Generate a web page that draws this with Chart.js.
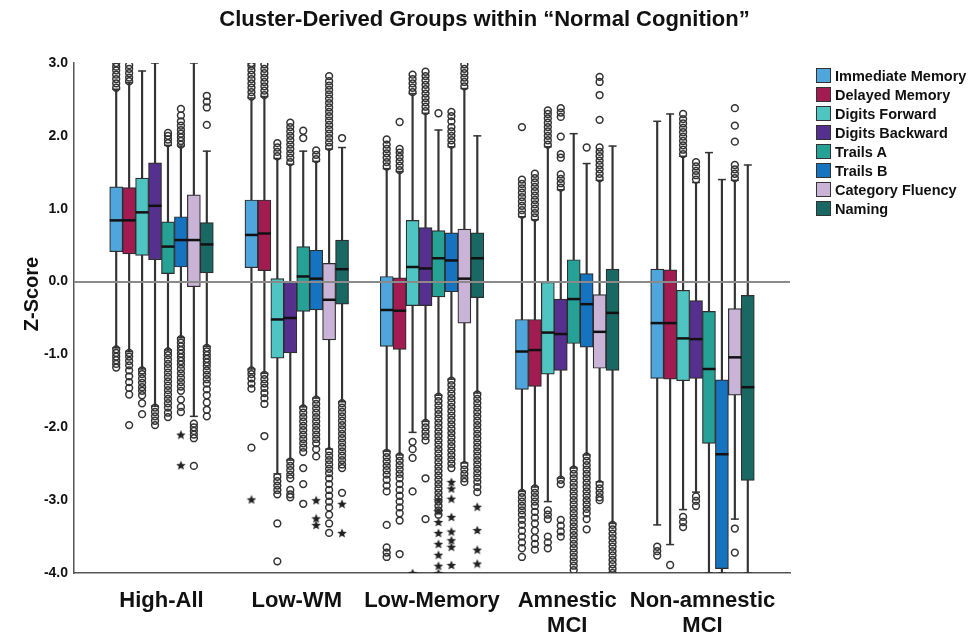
<!DOCTYPE html>
<html>
<head>
<meta charset="utf-8">
<script src="https://cdn.jsdelivr.net/npm/chart.js@4.4.1/dist/chart.umd.min.js"></script>
<style>
  body { margin: 0; background: #fff; font-family: "Liberation Sans", Arial, sans-serif; }
  #wrap { position: relative; width: 969px; height: 634px; }
  #legend { position: absolute; left: 816px; top: 66px; }
  .item { display: flex; align-items: center; height: 19px; font-weight: bold; font-size: 14.5px; color: #111; }
  .swatch { width: 15px; height: 15px; box-sizing: border-box; border: 1.5px solid #333; margin-right: 4px; }
</style>
</head>
<body>
<div id="wrap">
  <canvas id="chart"></canvas>
  <div id="legend"></div>
</div>
<script>
const groupLabels = ['High-All', 'Low-WM', 'Low-Memory', ['Amnestic', 'MCI'], ['Non-amnestic', 'MCI']];
const testNames = ['Immediate Memory', 'Delayed Memory', 'Digits Forward', 'Digits Backward',
                   'Trails A', 'Trails B', 'Category Fluency', 'Naming'];
const testColors = ['#4ea6dc', '#a31c51', '#4ec5c3', '#55308f', '#25a196', '#1673bf', '#c9b4d8', '#196864'];

// one row per test, one value per group (High-All .. Non-amnestic MCI)
const q3Values = [
  [1.30, 1.12, 0.07, -0.52, 0.17],
  [1.29, 1.12, 0.05, -0.52, 0.16],
  [1.42, 0.04, 0.84, -0.01, -0.12],
  [1.63, -0.01, 0.74, -0.24, -0.26],
  [0.82, 0.48, 0.70, 0.30, -0.41],
  [0.89, 0.43, 0.67, 0.11, -1.35],
  [1.19, 0.25, 0.72, -0.18, -0.37],
  [0.81, 0.57, 0.67, 0.17, -0.19]
];
const medianValues = [
  [0.84, 0.64, -0.39, -0.96, -0.57],
  [0.84, 0.66, -0.40, -0.94, -0.57],
  [0.95, -0.52, 0.20, -0.70, -0.78],
  [1.04, -0.50, 0.18, -0.72, -0.79],
  [0.48, 0.07, 0.32, -0.24, -1.20],
  [0.57, 0.04, 0.29, -0.31, -2.37],
  [0.57, -0.25, 0.04, -0.69, -1.04],
  [0.51, 0.17, 0.32, -0.43, -1.45]
];
const q1Values = [
  [0.41, 0.19, -0.89, -1.48, -1.33],
  [0.38, 0.15, -0.93, -1.44, -1.34],
  [0.36, -1.05, -0.33, -1.27, -1.36],
  [0.30, -0.98, -0.33, -1.22, -1.33],
  [0.11, -0.41, -0.21, -0.85, -2.22],
  [0.20, -0.39, -0.14, -0.90, -3.94],
  [-0.07, -0.80, -0.57, -1.19, -1.56],
  [0.12, -0.31, -0.22, -1.22, -2.73]
];
const whiskerHigh = [
  [2.64, 2.52, 1.55, 0.89, 2.20],
  [2.73, 2.54, 1.51, 0.85, 2.30],
  [2.89, 1.69, 2.58, 1.85, 1.72],
  [3.00, 1.61, 2.31, 1.26, 1.36],
  [1.87, 1.79, 2.08, 2.03, 1.77],
  [1.86, 1.65, 1.85, 1.62, 1.40],
  [3.00, 1.82, 2.65, 1.39, 1.39],
  [1.79, 1.84, 2.00, 1.86, 1.60]
];
const whiskerLow = [
  [-0.91, -1.20, -2.33, -2.88, -3.34],
  [-0.96, -1.26, -2.38, -2.82, -3.61],
  [-1.20, -2.64, -2.07, -3.02, -3.13],
  [-1.71, -2.45, -1.92, -2.70, -2.89],
  [-0.94, -1.72, -1.56, -2.56, -4.00],
  [-0.77, -1.60, -1.34, -2.38, -4.00],
  [-1.85, -2.30, -2.49, -2.75, -3.26],
  [-0.89, -1.65, -1.53, -3.32, -4.00]
];

// outliers (circles), per test, per group
const outImmediate = [
  [2.66, 2.72, 2.78, 2.84, 2.9, 2.95, 3.0, -0.93, -0.98, -1.03, -1.08, -1.13, -1.18],
  [2.54, 2.6, 2.66, 2.72, 2.78, 2.84, 2.9, 2.96, 3.0, -1.22, -1.27, -1.33, -1.4, -1.47, -2.28],
  [1.58, 1.64, 1.7, 1.76, 1.82, 1.88, 1.95, -2.35, -2.41, -2.47, -2.53, -2.59, -2.65, -2.72, -2.8, -2.88, -3.34, -3.65, -3.72, -3.78],
  [0.92, 0.98, 1.04, 1.1, 1.16, 1.22, 1.28, 1.34, 1.4, 2.12, -2.9, -2.96, -3.02, -3.08, -3.14, -3.2, -3.27, -3.34, -3.42, -3.5, -3.58, -3.66, -3.78],
  [-3.64, -3.7, -3.76]
];
const outDelayed = [
  [2.75, 2.8, 2.86, 2.92, 2.97, -0.98, -1.03, -1.09, -1.15, -1.22, -1.3, -1.38, -1.46, -1.55, -1.97],
  [2.56, 2.62, 2.68, 2.74, 2.8, 2.86, 2.92, 2.98, -1.28, -1.34, -1.4, -1.46, -1.53, -1.6, -1.68, -2.12],
  [1.53, 1.59, 1.65, 1.71, 1.77, 1.82, 2.19, -2.4, -2.46, -2.52, -2.58, -2.64, -2.7, -2.78, -2.86, -2.94, -3.02, -3.1, -3.18, -3.28, -3.74],
  [0.88, 0.94, 1.0, 1.06, 1.12, 1.18, 1.24, 1.3, 1.36, 1.42, 1.48, -2.84, -2.9, -2.96, -3.02, -3.08, -3.16, -3.24, -3.32, -3.42, -3.52, -3.6, -3.68],
  [-3.89]
];
const outDigitsFwd = [
  [-1.22, -1.27, -1.33, -1.39, -1.45, -1.5, -1.56, -1.67, -1.82],
  [1.72, 1.78, 1.84, 1.9, -2.68, -2.74, -2.8, -2.86, -2.92, -3.32, -3.84],
  [2.6, 2.66, 2.72, 2.78, 2.84, -2.2, -2.3, -2.42, -2.88],
  [1.88, 1.94, 2.0, 2.06, 2.12, 2.18, 2.24, 2.3, 2.35, -3.14, -3.2, -3.26, -3.5, -3.58, -3.66],
  [1.75, 1.81, 1.87, 1.93, 1.99, 2.05, 2.11, 2.17, 2.23, 2.3, -3.23, -3.3, -3.37]
];
const outDigitsBwd = [
  [-1.73, -1.79, -1.85, -1.91, -1.97],
  [1.64, 1.7, 1.76, 1.82, 1.88, 1.94, 2.0, 2.06, 2.12, 2.18, -2.47, -2.53, -2.59, -2.65, -2.7, -2.86, -2.92, -2.96],
  [2.34, 2.4, 2.46, 2.52, 2.58, 2.64, 2.7, 2.76, 2.82, 2.88, -1.94, -2.0, -2.06, -2.12, -2.18, -2.7, -3.26],
  [1.29, 1.35, 1.41, 1.47, 1.7, 1.75, 1.99, 2.26, 2.32, 2.38, -2.72, -2.78, -3.27, -3.35, -3.43, -3.5],
  [1.4, 1.46, 1.52, 1.58, 1.64, -2.95, -3.01, -3.08]
];
const outTrailsA = [
  [1.9, 1.95, 2.0, 2.04, -0.96, -1.01, -1.07, -1.13, -1.19, -1.25, -1.31, -1.37, -1.43, -1.49, -1.55, -1.61, -1.67, -1.73, -1.8, -1.86],
  [1.97, 2.07, -1.74, -1.8, -1.86, -1.92, -1.98, -2.04, -2.1, -2.16, -2.22, -2.28, -2.34, -2.56, -2.78, -3.05],
  [2.31, -1.58, -1.64, -1.7, -1.76, -1.82, -1.88, -1.94, -2.0, -2.06, -2.12, -2.18, -2.24, -2.3, -2.36, -2.42, -2.48,
   -2.54, -2.6, -2.66, -2.72, -2.78, -2.84, -2.9, -2.96, -3.02, -3.08, -3.14, -3.2],
  [-2.58, -2.64, -2.7, -2.76, -2.82, -2.88, -2.94, -3.0, -3.06, -3.12, -3.18, -3.24, -3.3, -3.36, -3.42, -3.48,
   -3.54, -3.6, -3.66, -3.72, -3.78, -3.84, -3.9, -3.96],
  []
];
const outTrailsB = [
  [1.88, 1.93, 1.98, 2.03, 2.08, 2.14, 2.2, 2.28, 2.37, -0.79, -0.84, -0.89, -0.94, -0.99, -1.04, -1.09, -1.14,
   -1.2, -1.26, -1.32, -1.38, -1.44, -1.5, -1.62, -1.72, -1.79],
  [1.68, 1.74, 1.8, -1.62, -1.68, -1.74, -1.8, -1.86, -1.92, -1.98, -2.04, -2.1, -2.16, -2.22, -2.3, -2.4],
  [1.88, 1.94, 2.0, 2.06, 2.12, 2.2, 2.27, 2.33, -1.36, -1.42, -1.48, -1.54, -1.6, -1.66, -1.72, -1.78, -1.84,
   -1.9, -1.96, -2.02, -2.08, -2.14, -2.2, -2.26, -2.32, -2.38, -2.44, -2.5, -2.56],
  [1.84, -2.4, -2.46, -2.52, -2.58, -2.64, -2.7, -2.76, -2.82, -2.88, -2.94, -3.0, -3.06, -3.12, -3.18, -3.26, -3.4],
  []
];
const outFluency = [
  [-1.95, -2.0, -2.05, -2.1, -2.15, -2.53],
  [1.85, 1.91, 1.97, 2.03, 2.09, 2.15, 2.21, 2.27, 2.33, 2.39, 2.45, 2.51, 2.57, 2.63, 2.69, 2.75, 2.82,
   -2.33, -2.39, -2.45, -2.51, -2.57, -2.63, -2.7, -2.78, -2.86, -2.94, -3.02, -3.1, -3.2, -3.32, -3.45],
  [2.68, 2.74, 2.8, 2.86, 2.92, 2.98, -2.52, -2.58, -2.64, -2.7, -2.75],
  [1.42, 1.48, 1.54, 1.6, 1.66, 1.72, 1.78, 1.84, 2.22, 2.56, 2.74, 2.81, -2.78, -2.84, -2.9, -2.96, -3.0],
  [1.42, 1.48, 1.54, 1.6, 1.92, 2.14, 2.38, -3.39, -3.72]
];
const outNaming = [
  [2.15, 2.39, 2.47, 2.55, -0.91, -0.96, -1.01, -1.06, -1.11, -1.16, -1.22, -1.28, -1.34, -1.4, -1.48, -1.56, -1.66, -1.76, -1.85],
  [1.97, -1.67, -1.73, -1.79, -1.85, -1.91, -1.97, -2.03, -2.09, -2.15, -2.21, -2.27, -2.33, -2.39, -2.45, -2.51, -2.56, -2.9],
  [-1.55, -1.61, -1.67, -1.73, -1.79, -1.85, -1.91, -1.97, -2.03, -2.09, -2.15, -2.21, -2.27, -2.33, -2.39, -2.45,
   -2.51, -2.57, -2.63, -2.69, -2.75, -2.82, -2.89],
  [-3.34, -3.4, -3.46, -3.52, -3.58, -3.64, -3.7, -3.76, -3.82, -3.88, -3.94, -4.0],
  []
];
const circleOutliers = [outImmediate, outDelayed, outDigitsFwd, outDigitsBwd, outTrailsA, outTrailsB, outFluency, outNaming];

// extreme outliers (stars): [test, group, value]
const extremeOutliers = [
  [0, 1, -2.99],
  [2, 2, -4.0],
  [4, 2, -3.0], [4, 2, -3.15], [4, 2, -3.3], [4, 2, -3.45], [4, 2, -3.6], [4, 2, -3.75], [4, 2, -3.9], [4, 2, -4.0],
  [5, 0, -2.1], [5, 0, -2.52],
  [5, 1, -3.0], [5, 1, -3.25], [5, 1, -3.34],
  [5, 2, -2.75], [5, 2, -2.84], [5, 2, -2.98], [5, 2, -3.23], [5, 2, -3.43], [5, 2, -3.55], [5, 2, -3.64], [5, 2, -3.89],
  [7, 1, -3.05], [7, 1, -3.45],
  [7, 2, -3.09], [7, 2, -3.41], [7, 2, -3.68], [7, 2, -3.87]
];

const FONT = '"Liberation Sans", Arial, sans-serif';
const boxStep = 0.0957;
const xPos = (t, g) => g + (t - 3.5) * boxStep;

// small filled five-point star used as the point style for extremes
function makeStar(size) {
  const c = document.createElement('canvas');
  c.width = c.height = size;
  const g = c.getContext('2d');
  const r = size / 2, ri = r * 0.45;
  g.beginPath();
  for (let i = 0; i < 10; i++) {
    const rad = i % 2 ? ri : r;
    const a = -Math.PI / 2 + i * Math.PI / 5;
    g.lineTo(r + rad * Math.cos(a), r + 0.5 + rad * Math.sin(a));
  }
  g.closePath();
  g.fillStyle = '#222';
  g.fill();
  return c;
}
const starImage = makeStar(10);

const whiskerData = [], capData = [], medianData = [], circleData = [], starData = [];
testNames.forEach((name, t) => {
  groupLabels.forEach((_, g) => {
    const x = xPos(t, g);
    whiskerData.push({x: x, y: [whiskerLow[t][g], whiskerHigh[t][g]]});
    capData.push({x: x, y: whiskerLow[t][g]}, {x: x, y: whiskerHigh[t][g]});
    medianData.push({x: x, y: medianValues[t][g]});
    circleOutliers[t][g].forEach(v => circleData.push({x: x, y: v}));
  });
});
extremeOutliers.forEach(([t, g, v]) => starData.push({x: xPos(t, g), y: v}));

const boxDatasets = testNames.map((name, t) => ({
  type: 'bar',
  label: name,
  order: 3,
  data: groupLabels.map((_, g) => ({x: xPos(t, g), y: [q1Values[t][g], q3Values[t][g]]})),
  backgroundColor: testColors[t],
  borderColor: '#2e2e2e',
  borderWidth: 1.2,
  borderSkipped: false,
  barThickness: 13,
  grouped: false
}));

const yTitlePlugin = {
  id: 'yTitle',
  afterDraw(chart) {
    const ctx = chart.ctx;
    const a = chart.chartArea;
    ctx.save();
    ctx.translate(32, (a.top + a.bottom) / 2 - 24);
    ctx.rotate(-Math.PI / 2);
    ctx.font = 'bold 20px ' + FONT;
    ctx.fillStyle = '#111';
    ctx.textAlign = 'center';
    ctx.textBaseline = 'middle';
    ctx.fillText('Z-Score', 0, 0);
    ctx.restore();
  }
};

new Chart(document.getElementById('chart'), {
  type: 'scatter',
  data: {
    datasets: [
      {
        type: 'bar', label: 'whiskers', order: 4, data: whiskerData,
        backgroundColor: '#333', borderWidth: 0, barThickness: 1.5, grouped: false
      },
      ...boxDatasets,
      {
        label: 'medians', order: 2, data: medianData,
        pointStyle: 'line', pointRadius: 6.5, borderColor: '#111', pointBorderWidth: 2.5
      },
      {
        label: 'caps', order: 1, data: capData,
        pointStyle: 'line', pointRadius: 4, borderColor: '#333', pointBorderWidth: 1.5
      },
      {
        label: 'outliers', order: 0, data: circleData,
        pointStyle: 'circle', pointRadius: 3.4, borderColor: '#333',
        backgroundColor: 'rgba(255,255,255,0)', pointBorderWidth: 1.5
      },
      {
        label: 'extremes', order: 0, data: starData,
        pointStyle: starImage, pointRadius: 5
      }
    ]
  },
  options: {
    responsive: true,
    maintainAspectRatio: false,
    animation: false,
    events: [],
    layout: { padding: 0 },
    plugins: {
      legend: { display: false },
      tooltip: { enabled: false },
      title: {
        display: true,
        text: 'Cluster-Derived Groups within \u201CNormal Cognition\u201D',
        color: '#111',
        font: { family: FONT, size: 22, weight: 'bold', lineHeight: 1.2 },
        padding: { top: 6.3, bottom: 30.3 }
      }
    },
    scales: {
      x: {
        type: 'linear',
        offset: false,
        min: -0.647,
        max: 4.647,
        afterBuildTicks: s => { s.ticks = groupLabels.map((_, i) => ({value: i})); },
        afterFit: s => { s.height = 61; },
        ticks: {
          callback: v => groupLabels[v],
          color: '#111',
          padding: 15.3,
          maxRotation: 0,
          autoSkip: false,
          font: { family: FONT, size: 22, weight: 'bold', lineHeight: 1.15 }
        },
        grid: { display: false, drawTicks: false, offset: false },
        border: { display: true, color: '#555', width: 1.5 }
      },
      y: {
        min: -4,
        max: 3,
        afterFit: s => { s.width = 74; },
        ticks: {
          stepSize: 1,
          callback: v => v.toFixed(1),
          color: '#111',
          padding: 6,
          font: { family: FONT, size: 14, weight: 'bold' }
        },
        grid: {
          drawTicks: false,
          z: 1,
          lineWidth: 2,
          color: c => (c.tick && c.tick.value === 0) ? '#8a8a8a' : 'rgba(0,0,0,0)'
        },
        border: { display: true, color: '#555', width: 1.5, z: 2 }
      },
      // empty right-hand axis that reserves room for the legend
      legendSpace: {
        type: 'linear',
        position: 'right',
        display: true,
        afterFit: s => { s.width = 179; },
        ticks: { display: false },
        grid: { display: false, drawTicks: false },
        border: { display: false }
      }
    }
  },
  plugins: [yTitlePlugin]
});

// legend
const legendBox = document.getElementById('legend');
testNames.forEach((name, t) => {
  const row = document.createElement('div');
  row.className = 'item';
  row.innerHTML = '<span class="swatch" style="background:' + testColors[t] + '"></span>' + name;
  legendBox.appendChild(row);
});
</script>
</body>
</html>
